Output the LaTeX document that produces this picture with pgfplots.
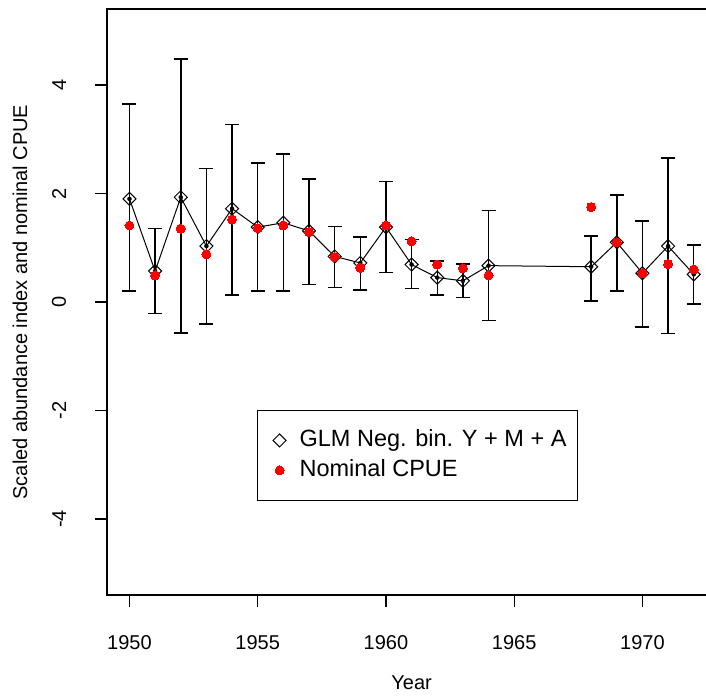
\documentclass[border=0pt]{standalone}
\usepackage{pgfplots}
\pgfplotsset{compat=1.18}
\usepackage{pgfplotstable}
\usepackage{fontspec}
\setmainfont{Liberation Sans}

% Standardised GLM index (with 95% limits) and nominal CPUE by year
\pgfplotstableread{
year  est    lo     hi    cpue
1950  1.90   0.20   3.65  1.41
1951  0.57  -0.21   1.35  0.49
1952  1.93  -0.57   4.48  1.35
1953  1.03  -0.41   2.46  0.88
1954  1.72   0.13   3.27  1.52
1955  1.38   0.20   2.56  1.36
1956  1.46   0.20   2.73  1.41
1957  1.31   0.32   2.27  1.29
1958  0.84   0.27   1.39  0.83
1959  0.72   0.22   1.20  0.63
1960  1.38   0.54   2.22  1.41
1961  0.69   0.25   1.15  1.12
1962  0.45   0.13   0.76  0.69
1963  0.39   0.08   0.70  0.62
1964  0.67  -0.34   1.69  0.49
1968  0.65   0.02   1.22  1.75
1969  1.10   0.20   1.97  1.10
1970  0.53  -0.46   1.49  0.53
1971  1.03  -0.58   2.65  0.70
1972  0.51  -0.04   1.05  0.60
}\cpuedata

\begin{document}
\begin{tikzpicture}
\useasboundingbox (-106.9pt,-103pt) rectangle (599.1pt,595pt);
\clip (-106.9pt,-103pt) rectangle (599.1pt,595pt);
\begin{axis}[
  at={(0pt,0pt)}, anchor=south west,
  scale only axis, width=609.4pt, height=586pt,
  xmin=1949.12, xmax=1972.88, ymin=-5.4, ymax=5.4,
  xtick={1950,1955,1960,1965,1970},
  xticklabels={1950,1955,1960,1965,1970},
  ytick={-4,-2,0,2,4},
  yticklabels={-4,-2,0,2,4},
  tick pos=left, tick align=outside, major tick length=12pt,
  every tick/.style={black, line width=1.3pt},
  axis line style={line width=1.5pt},
  ticklabel style={font=\fontsize{20}{24}\selectfont, inner sep=0pt},
  xticklabel style={anchor=north}, xticklabel shift=28pt,
  yticklabel style={rotate=90, anchor=south}, yticklabel shift=28.7pt,
  xlabel={Year},
  ylabel={Scaled abundance index and nominal CPUE},
  label style={font=\fontsize{20}{24}\selectfont, inner sep=0pt},
  xlabel style={at={(axis description cs:0.5,-0.1502)}, anchor=center},
  ylabel style={at={(axis description cs:-0.1426,0.5)}, anchor=center},
  legend style={at={(0.2463,0.1604)}, anchor=south west, draw=black,
    line width=1.2pt, font=\fontsize{23.5}{28}\selectfont,
    inner xsep=11pt, inner ysep=19pt, row sep=8pt,
    nodes={inner sep=0pt, text height=17pt, text depth=5pt}},
  legend cell align=left,
  legend image code/.code={%
    \path[draw=none] (0pt,0pt) -- (31pt,0pt);
    \draw[#1] plot coordinates {(11pt,0pt)};},
]
% connecting line of the index
\addplot[black, line width=1pt, forget plot]
  table[x=year, y=est]{\cpuedata};
% confidence limits with flat caps
\addplot[only marks, mark=none, forget plot,
  error bars/.cd, y dir=both, y explicit,
  error bar style={line width=1.5pt, black},
  error mark=|,
  error mark options={mark size=7pt, line width=1.5pt, black}]
  table[x=year, y=est,
        y error plus expr=\thisrow{hi}-\thisrow{est},
        y error minus expr=\thisrow{est}-\thisrow{lo}]{\cpuedata};
% index points (open diamonds)
\addplot[only marks, mark=square, mark size=4.6pt,
  mark options={draw=black, fill=none, line width=1pt, rotate=45}]
  table[x=year, y=est]{\cpuedata};
% nominal CPUE
\addplot[only marks, mark=*, mark size=4.5pt,
  mark options={draw=red, fill=red, line width=0pt}]
  table[x=year, y=cpue]{\cpuedata};
\legend{GLM Neg. bin. Y + M + A, Nominal CPUE}
\end{axis}
\end{tikzpicture}
\end{document}
